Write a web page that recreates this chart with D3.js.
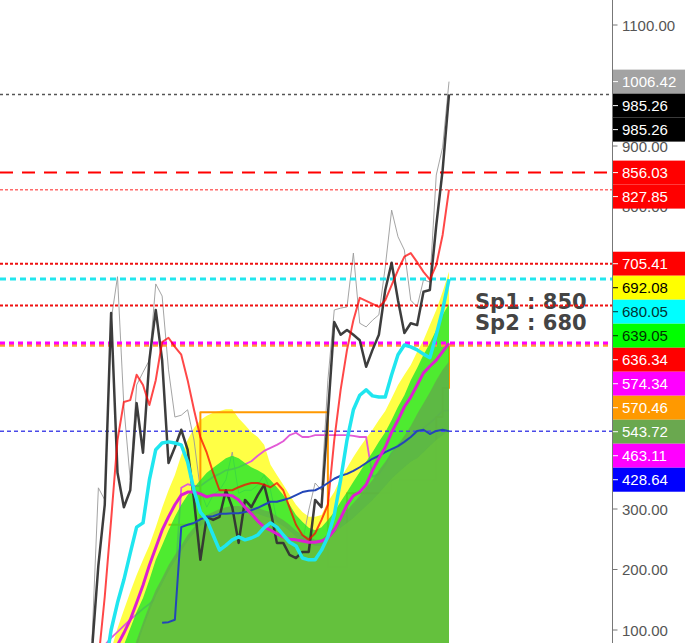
<!DOCTYPE html>
<html><head><meta charset="utf-8">
<script src="https://cdn.jsdelivr.net/npm/d3@7"></script>
<style>html,body{margin:0;padding:0;background:#fff;}svg{display:block;}</style>
</head><body>
<script>
// ---- data ----
const closeVals = [67,207,307,624,360,303,331,475,393,546,629,546,376,402,431,398,315,216,287,282,287,331,303,244,315,303,323,340,298,244,244,224,219,229,229,315,303,455,609,588,596,588,579,535,563,588,662,707,645,591,607,604,659,662,769,860,985.26];
const highVals = [83,335,315,612,684,469,348,505,526,546,672,652,530,452,455,464,414,331,303,323,331,348,394,326,331,331,340,356,331,282,265,265,249,244,298,343,331,513,629,632,634,723,607,601,612,621,700,794,750,728,645,634,679,675,852,898,1006.42];
const redVals = [-15,50,155,282,414,477,480,522,505,472,513,576,583,568,555,513,464,419,393,360,331,331,331,336,340,343,343,340,336,343,331,302,274,257,249,260,282,307,414,497,563,612,649,644,639,634,645,670,695,717,723,708,692,679,703,753,827.85];
const cyanVals = [-49,-16,34,100,145,183,227,270,277,348,398,409,411,409,406,378,331,295,282,257,232,240,249,254,249,252,257,269,277,270,257,245,239,219,216,216,232,254,290,348,414,464,488,497,487,485,485,522,555,571,568,563,556,550,588,629,680.05];
const magentaVals = [-49,-16,17,50,75,95,117,145,174,207,236,265,287,307,323,328,328,325,320,323,323,323,322,315,303,292,280,270,265,259,254,250,249,247,245,245,247,252,265,285,307,322,328,340,364,384,402,427,447,469,485,505,525,536,546,560,574.34];
const pinkVals = [42,59,75,87,97,107,117,126,135,143,153,163,169,174,335,341,338,338,346,353,358,364,366,369,374,379,388,396,401,406,412,422,426,419,419,422,422,422,422,422,422,421,419,419,353,358,373,393,406,414,419,426,434,442,452,462,463.11];
const blueVals = [null,null,null,null,null,null,null,null,null,null,null,112,113,117,270,274,277,283,287,288,292,292,293,293,295,298,302,307,312,312,315,318,323,328,330,331,336,343,350,355,358,363,369,376,383,388,394,399,404,411,419,429,431,424,429,431,428.64];
const orangeVals = [null,null,null,null,null,null,null,null,null,null,null,null,274,274,274,274,274,460,460,460,460,460,460,460,460,460,460,460,460,460,460,460,460,460,460,460,460,204,204,204,326,326,326,326,326,326,326,348,348,348,348,348,348,348,452,500,570.46];
const yellowTop = [-49,-16,17,67,103,133,163,191,216,240,270,302,331,356,389,414,434,447,454,459,462,465,465,450,439,427,419,406,373,356,340,323,307,295,287,287,290,312,328,351,368,386,402,417,431,447,462,483,505,522,538,560,579,604,629,659,692.08];
const greenTop = [-82,-49,-16,17,47,75,103,130,153,183,216,240,265,287,307,323,335,348,360,368,376,384,388,384,376,369,364,358,348,336,323,307,290,279,269,265,270,282,295,312,328,345,361,378,394,411,427,447,469,488,513,533,555,574,596,621,639.05];
const grayGreenTop = [-148,-115,-82,-49,-16,17,50,83,113,141,166,186,207,224,240,257,270,282,290,295,300,303,305,305,303,303,302,298,295,288,282,274,264,257,254,249,249,260,270,285,298,310,322,335,348,364,378,393,406,421,437,457,475,493,513,530,543.72];
const darkGreenTop = [-158,-125,-92,-59,-26,7,40,73,103,131,156,176,197,214,230,247,260,272,280,285,290,293,295,295,293,293,292,288,285,278,272,264,254,247,244,239,239,250,260,269,277,285,295,305,315,326,338,350,360,369,378,384,394,404,414,422,431];

const yTicks = [100,200,300,400,500,600,700,800,900,1000,1100];
const levelValues = [985.26,856.03,827.85,705.41,680.05,636.34,570.46,574.34,428.64];
const levelColors = ['#555555','#ff0000','#ff6b6b','#ee1111','#22e6ee','#ee1111','#ff9d2e','#ff00ff','#4a4ae8'];
const labelValues = [1006.42,985.26,985.26,856.03,827.85,705.41,692.08,680.05,639.05,636.34,574.34,570.46,543.72,463.11,428.64];
const labelBg = ['#a3a3a3','#000000','#000000','#ff0000','#ff0000','#ff0000','#ffff00','#00ffff','#00ff00','#ff0000','#ff00ff','#ff9900','#6aa84f','#ff00ff','#0000ff'];
const labelFg = ['#ffffff','#ffffff','#ffffff','#ffffff','#ffffff','#ffffff','#000000','#003333','#003300','#ffffff','#ffffff','#ffffff','#ffffff','#ffffff','#ffffff'];
const noteLines = ['Sp1 : 850','Sp2 : 680'];

// ---- drawing ----
const W = 685, H = 643;
const svg = d3.select('body').append('svg').attr('width', W).attr('height', H);
svg.append('rect').attr('width', W).attr('height', H).attr('fill', '#fff');

const idx = d3.range(closeVals.length);
const x = d3.scaleLinear().domain([0, closeVals.length - 1]).range([92, 449]);
const y = d3.scaleLinear().domain([100, 1100]).range([630, 25]);
const axisX = 612.5;

const plot = svg.append('g');
const base = y(-400);

function drawArea(vals, fill, op) {
  plot.append('path')
    .attr('d', d3.area().x(i => x(i)).y0(base).y1(i => y(vals[i]))(idx))
    .attr('fill', fill).attr('fill-opacity', op);
}
function drawLine(layer, vals, color, w, op, curve) {
  const g = d3.line().defined(i => vals[i] !== null).x(i => x(i)).y(i => y(vals[i]));
  if (curve) g.curve(curve);
  layer.append('path').attr('d', g(idx)).attr('fill', 'none')
    .attr('stroke', color).attr('stroke-width', w).attr('stroke-opacity', op)
    .attr('stroke-linejoin', 'round');
}

drawArea(yellowTop, '#ffff45', 1);
drawLine(plot, highVals, '#9a9a9a', 1, 0.9);
drawLine(plot, pinkVals, '#e25ad6', 1.8, 1);
drawLine(plot, orangeVals, '#ff9900', 2, 1, d3.curveStepAfter);
drawArea(greenTop, '#22e62b', 0.8);
drawArea(grayGreenTop, '#62ad4a', 0.8);
drawArea(darkGreenTop, '#66c33c', 0.8);

// notes (one text block, two lines)
const note = svg.append('text').attr('font-family', 'DejaVu Sans, Verdana, sans-serif')
  .attr('font-weight', 'bold').attr('font-size', 21).attr('fill', '#444')
  .attr('x', 475).attr('y', 309);
noteLines.forEach((t, k) => note.append('tspan').attr('x', 475).attr('dy', k === 0 ? 0 : 21).text(t));

// level lines
const dashes = ['3,3','13,9','3,2','3,2','6,4','3,2','5,4','5,4','4,3'];
const widths = [1.5,2,1.5,2,3,2,3,3,1.5];
levelValues.forEach((v, k) => {
  svg.append('line').attr('x1', 0).attr('x2', axisX).attr('y1', y(v)).attr('y2', y(v))
    .attr('stroke', levelColors[k]).attr('stroke-width', widths[k]).attr('stroke-dasharray', dashes[k]);
});

// top lines
const upper = svg.append('g');
drawLine(upper, closeVals, '#333333', 2.5, 0.95);
drawLine(upper, redVals, '#ff0000', 2, 0.72);
drawLine(upper, blueVals, '#2346b8', 2, 1);
drawLine(upper, magentaVals, '#dd1fd0', 3, 1);
drawLine(upper, cyanVals, '#1fe6ef', 3.5, 1);

// value label boxes (stacked so they never overlap)
const lh = 24;
let prevBottom = -1e9;
const boxes = labelValues.map(v => {
  const topY = Math.max(y(v) - lh / 2, prevBottom);
  prevBottom = topY + lh;
  return [topY, topY + lh];
});
const covered = py => boxes.some(b => py >= b[0] && py <= b[1]);

// axis
const ax = svg.append('g');
ax.append('line').attr('x1', axisX).attr('x2', axisX).attr('y1', 0).attr('y2', H).attr('stroke', '#777').attr('stroke-width', 1);
yTicks.forEach(t => {
  ax.append('line').attr('x1', axisX).attr('x2', axisX + 5).attr('y1', y(t)).attr('y2', y(t)).attr('stroke', '#777');
  if (covered(y(t) - 6) && covered(y(t) + 6)) return; // label fully hidden behind value boxes
  ax.append('text').attr('x', 622).attr('y', y(t) + 5.5).attr('font-family', 'Liberation Sans, Arial, sans-serif')
    .attr('font-size', 15).attr('fill', '#555').text(d3.format('.2f')(t));
});

labelValues.forEach((v, k) => {
  const topY = boxes[k][0];
  const g = svg.append('g');
  g.append('rect').attr('x', 613).attr('y', topY).attr('width', 80).attr('height', lh).attr('fill', labelBg[k]);
  g.append('line').attr('x1', 613).attr('x2', 618).attr('y1', topY + lh / 2).attr('y2', topY + lh / 2).attr('stroke', labelFg[k]);
  g.append('text').attr('x', 622).attr('y', topY + lh / 2 + 5.5).attr('font-family', 'Liberation Sans, Arial, sans-serif')
    .attr('font-size', 15).attr('fill', labelFg[k]).text(d3.format('.2f')(v));
});
</script>
</body></html>
